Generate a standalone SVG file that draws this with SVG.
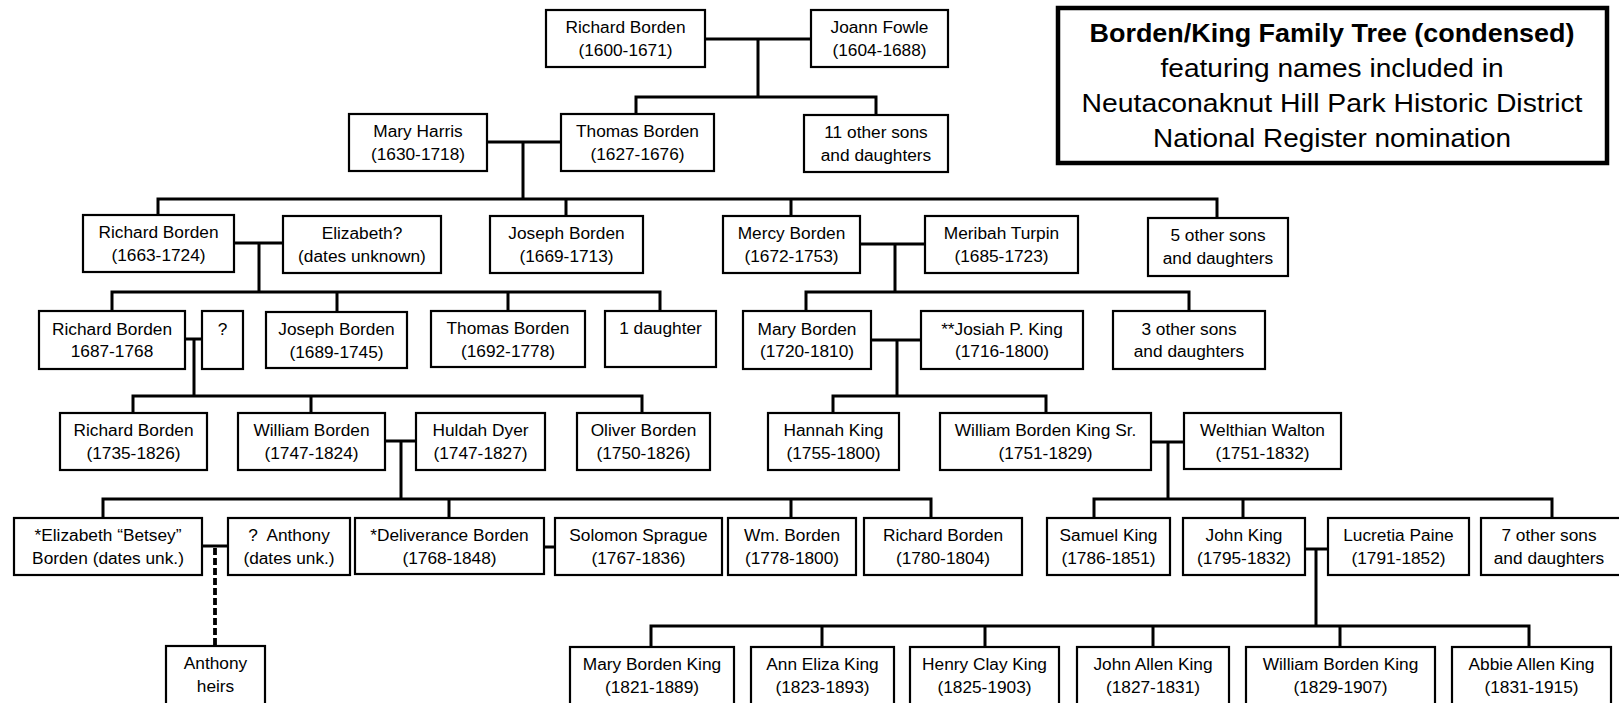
<svg xmlns="http://www.w3.org/2000/svg" width="1619" height="703" viewBox="0 0 1619 703">
<style>
.b{fill:#fff;stroke:#000;stroke-width:2.2}
.t{font-family:"Liberation Sans",Arial,sans-serif;font-size:17.3px;text-anchor:middle;fill:#000}
.c{fill:none;stroke:#000;stroke-width:3;stroke-linejoin:miter}
.d{fill:none;stroke:#000;stroke-width:3.8;stroke-dasharray:7 3}
.h{font-family:"Liberation Sans",Arial,sans-serif;font-size:25px;text-anchor:middle;fill:#000}
</style>
<rect width="1619" height="703" fill="#fff"/>
<g id="connectors">
<path class="c" d="M705 39H811M758 39V97M636 114V97H876V115"/>
<path class="c" d="M487 142H561M523 142V199M158 215V199H1217V218M566 199V216M791 199V216"/>
<path class="c" d="M234 243H283M259 243V292M112 311V292H660V311M337 292V312M508 292V311"/>
<path class="c" d="M860 244H925M895 244V292M806 311V292H1189V311"/>
<path class="c" d="M185 339H202M194 339V396M133 413V396H642V413M311 396V413"/>
<path class="c" d="M871 340H921M897 340V396M833 413V396H1046V413"/>
<path class="c" d="M385 441H416M401 441V499M103 518V499H931V518M449 499V518M791 499V518"/>
<path class="c" d="M544 547H555"/>
<path class="c" d="M1151 442H1184M1168 442V499M1094 518V499H1552V518M1243 499V518"/>
<path class="c" d="M202 546H228"/>
<path class="d" d="M215 548V646"/>
<path class="c" d="M1305 549H1328M1316 549V626M651 647V626H1529V647M822 626V647M985 626V647M1153 626V647M1340 626V647"/>
</g>
<g id="title">
<rect x="1058" y="8" width="549" height="155" fill="#fff" stroke="#000" stroke-width="4.5"/>
<text class="h" x="1332" y="42" font-weight="bold" textLength="485" lengthAdjust="spacingAndGlyphs">Borden/King Family Tree (condensed)</text>
<text class="h" x="1332" y="77" textLength="343" lengthAdjust="spacingAndGlyphs">featuring names included in</text>
<text class="h" x="1332" y="112" textLength="501" lengthAdjust="spacingAndGlyphs">Neutaconaknut Hill Park Historic District</text>
<text class="h" x="1332" y="147" textLength="358" lengthAdjust="spacingAndGlyphs">National Register nomination</text>
</g>
<g id="richard1600"><rect class="b" x="546" y="10" width="159" height="57"/><text class="t" x="625.5" y="33">Richard Borden</text><text class="t" x="625.5" y="56">(1600-1671)</text></g>
<g id="joann"><rect class="b" x="811" y="10" width="137" height="57"/><text class="t" x="879.5" y="33">Joann Fowle</text><text class="t" x="879.5" y="56">(1604-1688)</text></g>
<g id="maryharris"><rect class="b" x="349" y="114" width="138" height="57"/><text class="t" x="418" y="137">Mary Harris</text><text class="t" x="418" y="160">(1630-1718)</text></g>
<g id="thomas1627"><rect class="b" x="561" y="114" width="153" height="57"/><text class="t" x="637.5" y="137">Thomas Borden</text><text class="t" x="637.5" y="160">(1627-1676)</text></g>
<g id="other11"><rect class="b" x="804" y="115" width="144" height="57"/><text class="t" x="876" y="138">11 other sons</text><text class="t" x="876" y="161">and daughters</text></g>
<g id="richard1663"><rect class="b" x="83" y="215" width="151" height="57"/><text class="t" x="158.5" y="238">Richard Borden</text><text class="t" x="158.5" y="261">(1663-1724)</text></g>
<g id="elizabeth"><rect class="b" x="283" y="216" width="158" height="57"/><text class="t" x="362" y="239">Elizabeth?</text><text class="t" x="362" y="262">(dates unknown)</text></g>
<g id="joseph1669"><rect class="b" x="490" y="216" width="153" height="57"/><text class="t" x="566.5" y="239">Joseph Borden</text><text class="t" x="566.5" y="262">(1669-1713)</text></g>
<g id="mercy"><rect class="b" x="723" y="216" width="137" height="57"/><text class="t" x="791.5" y="239">Mercy Borden</text><text class="t" x="791.5" y="262">(1672-1753)</text></g>
<g id="meribah"><rect class="b" x="925" y="216" width="153" height="57"/><text class="t" x="1001.5" y="239">Meribah Turpin</text><text class="t" x="1001.5" y="262">(1685-1723)</text></g>
<g id="other5"><rect class="b" x="1148" y="218" width="140" height="58"/><text class="t" x="1218" y="241">5 other sons</text><text class="t" x="1218" y="264">and daughters</text></g>
<g id="richard1687"><rect class="b" x="39" y="311" width="146" height="58"/><text class="t" x="112" y="335">Richard Borden</text><text class="t" x="112" y="357">1687-1768</text></g>
<g id="unknown"><rect class="b" x="202" y="311" width="41" height="58"/><text class="t" x="222.5" y="335">?</text></g>
<g id="joseph1689"><rect class="b" x="266" y="312" width="141" height="56"/><text class="t" x="336.5" y="335">Joseph Borden</text><text class="t" x="336.5" y="358">(1689-1745)</text></g>
<g id="thomas1692"><rect class="b" x="431" y="311" width="154" height="56"/><text class="t" x="508" y="334">Thomas Borden</text><text class="t" x="508" y="357">(1692-1778)</text></g>
<g id="daughter1"><rect class="b" x="605" y="311" width="111" height="56"/><text class="t" x="660.5" y="334">1 daughter</text></g>
<g id="maryborden"><rect class="b" x="743" y="311" width="128" height="58"/><text class="t" x="807" y="335">Mary Borden</text><text class="t" x="807" y="357">(1720-1810)</text></g>
<g id="josiah"><rect class="b" x="921" y="311" width="162" height="58"/><text class="t" x="1002" y="335">**Josiah P. King</text><text class="t" x="1002" y="357">(1716-1800)</text></g>
<g id="other3"><rect class="b" x="1113" y="311" width="152" height="58"/><text class="t" x="1189" y="335">3 other sons</text><text class="t" x="1189" y="357">and daughters</text></g>
<g id="richard1735"><rect class="b" x="60" y="413" width="147" height="57"/><text class="t" x="133.5" y="436">Richard Borden</text><text class="t" x="133.5" y="459">(1735-1826)</text></g>
<g id="william1747"><rect class="b" x="238" y="413" width="147" height="57"/><text class="t" x="311.5" y="436">William Borden</text><text class="t" x="311.5" y="459">(1747-1824)</text></g>
<g id="huldah"><rect class="b" x="416" y="413" width="129" height="57"/><text class="t" x="480.5" y="436">Huldah Dyer</text><text class="t" x="480.5" y="459">(1747-1827)</text></g>
<g id="oliver"><rect class="b" x="577" y="413" width="133" height="57"/><text class="t" x="643.5" y="436">Oliver Borden</text><text class="t" x="643.5" y="459">(1750-1826)</text></g>
<g id="hannah"><rect class="b" x="768" y="413" width="131" height="57"/><text class="t" x="833.5" y="436">Hannah King</text><text class="t" x="833.5" y="459">(1755-1800)</text></g>
<g id="wbksr"><rect class="b" x="940" y="413" width="211" height="57"/><text class="t" x="1045.5" y="436">William Borden King Sr.</text><text class="t" x="1045.5" y="459">(1751-1829)</text></g>
<g id="welthian"><rect class="b" x="1184" y="413" width="157" height="56"/><text class="t" x="1262.5" y="436">Welthian Walton</text><text class="t" x="1262.5" y="459">(1751-1832)</text></g>
<g id="betsey"><rect class="b" x="14" y="518" width="188" height="57"/><text class="t" x="108" y="541">*Elizabeth “Betsey”</text><text class="t" x="108" y="564">Borden (dates unk.)</text></g>
<g id="anthony"><rect class="b" x="228" y="518" width="122" height="57"/><text class="t" x="289" y="541" xml:space="preserve">?  Anthony</text><text class="t" x="289" y="564">(dates unk.)</text></g>
<g id="deliverance"><rect class="b" x="355" y="518" width="189" height="56"/><text class="t" x="449.5" y="541">*Deliverance Borden</text><text class="t" x="449.5" y="564">(1768-1848)</text></g>
<g id="solomon"><rect class="b" x="555" y="518" width="167" height="57"/><text class="t" x="638.5" y="541">Solomon Sprague</text><text class="t" x="638.5" y="564">(1767-1836)</text></g>
<g id="wm1778"><rect class="b" x="728" y="518" width="128" height="57"/><text class="t" x="792" y="541">Wm. Borden</text><text class="t" x="792" y="564">(1778-1800)</text></g>
<g id="richard1780"><rect class="b" x="864" y="518" width="158" height="57"/><text class="t" x="943" y="541">Richard Borden</text><text class="t" x="943" y="564">(1780-1804)</text></g>
<g id="samuel"><rect class="b" x="1047" y="518" width="123" height="57"/><text class="t" x="1108.5" y="541">Samuel King</text><text class="t" x="1108.5" y="564">(1786-1851)</text></g>
<g id="johnking"><rect class="b" x="1183" y="518" width="122" height="57"/><text class="t" x="1244" y="541">John King</text><text class="t" x="1244" y="564">(1795-1832)</text></g>
<g id="lucretia"><rect class="b" x="1328" y="518" width="141" height="57"/><text class="t" x="1398.5" y="541">Lucretia Paine</text><text class="t" x="1398.5" y="564">(1791-1852)</text></g>
<g id="other7"><rect class="b" x="1481" y="518" width="142" height="57"/><text class="t" x="1549" y="541">7 other sons</text><text class="t" x="1549" y="564">and daughters</text></g>
<g id="anthonyheirs"><rect class="b" x="166" y="646" width="99" height="60"/><text class="t" x="215.5" y="669">Anthony</text><text class="t" x="215.5" y="692">heirs</text></g>
<g id="marybk"><rect class="b" x="570" y="647" width="164" height="59"/><text class="t" x="652" y="670">Mary Borden King</text><text class="t" x="652" y="693">(1821-1889)</text></g>
<g id="anneliza"><rect class="b" x="751" y="647" width="143" height="59"/><text class="t" x="822.5" y="670">Ann Eliza King</text><text class="t" x="822.5" y="693">(1823-1893)</text></g>
<g id="henryclay"><rect class="b" x="910" y="647" width="149" height="59"/><text class="t" x="984.5" y="670">Henry Clay King</text><text class="t" x="984.5" y="693">(1825-1903)</text></g>
<g id="johnallen"><rect class="b" x="1077" y="647" width="152" height="59"/><text class="t" x="1153" y="670">John Allen King</text><text class="t" x="1153" y="693">(1827-1831)</text></g>
<g id="williambk"><rect class="b" x="1246" y="647" width="189" height="59"/><text class="t" x="1340.5" y="670">William Borden King</text><text class="t" x="1340.5" y="693">(1829-1907)</text></g>
<g id="abbie"><rect class="b" x="1452" y="647" width="159" height="59"/><text class="t" x="1531.5" y="670">Abbie Allen King</text><text class="t" x="1531.5" y="693">(1831-1915)</text></g>
</svg>
